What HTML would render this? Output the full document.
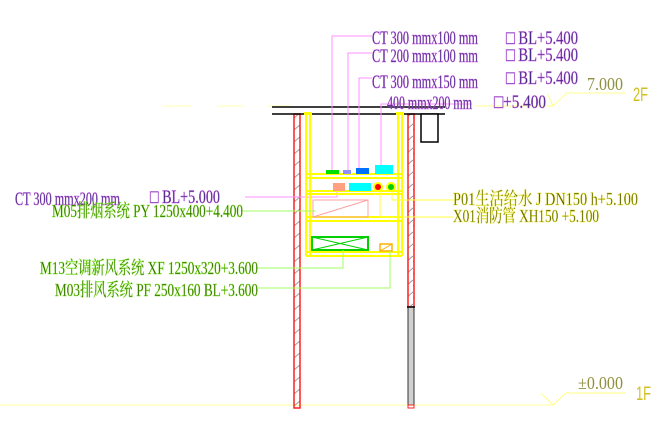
<!DOCTYPE html>
<html><head><meta charset="utf-8"><style>html,body{margin:0;padding:0;background:#fff;width:668px;height:434px;overflow:hidden}</style></head><body>
<svg width="668" height="434" viewBox="0 0 668 434" xmlns="http://www.w3.org/2000/svg" font-family="Liberation Serif, Noto Serif CJK SC, serif">
<defs><pattern id="h" width="7" height="12" patternUnits="userSpaceOnUse"><line x1="0" y1="10" x2="7" y2="4" stroke="#999" stroke-width="1"/></pattern></defs>
<g stroke="#ffffb0" stroke-width="1"><line x1="163" y1="106" x2="191" y2="106"/><line x1="217" y1="106" x2="243" y2="106"/><line x1="268" y1="106" x2="290" y2="106"/></g>
<line x1="0" y1="405" x2="553" y2="405" stroke="#ffffa0" stroke-width="1"/>
<polyline points="541,393 553,405 566,393 625,393" fill="none" stroke="#ffff80" stroke-width="1"/>
<polyline points="475,106 553,106 567,93 625,93" fill="none" stroke="#ffff90" stroke-width="1"/>
<line x1="547" y1="93" x2="553" y2="106" stroke="#ffff90"/>
<rect x="294" y="114" width="6" height="294" fill="url(#h)" stroke="#ff2020" stroke-width="1.5"/>
<rect x="408" y="114" width="6" height="193" fill="url(#h)" stroke="#ff2020" stroke-width="1.5"/>
<rect x="408" y="307" width="6" height="99" fill="#d0d0d0" stroke="#333" stroke-width="1"/>
<rect x="408" y="405" width="6" height="3" fill="#fff" stroke="#ff2020"/>
<line x1="407" y1="307" x2="415" y2="307" stroke="#000" stroke-width="1.5"/>
<line x1="272" y1="107" x2="445" y2="107" stroke="#000" stroke-width="1.5"/>
<line x1="272" y1="114" x2="445" y2="114" stroke="#000" stroke-width="1.5"/>
<rect x="421" y="114" width="17" height="28" fill="#fff" stroke="#000" stroke-width="1.5"/>
<g stroke="#ff90ff" stroke-width="1" fill="none">
<polyline points="332,170 332,36 372,36"/>
<polyline points="348,170 348,53 372,53"/>
<polyline points="359,168 359,78 372,78"/>
<polyline points="381,165 381,104 387,104"/>
<polyline points="245,197 337,197 337,191"/>
</g>
<line x1="387" y1="104" x2="472" y2="104" stroke="#ff90ff"/>
<g stroke="#ffff00" stroke-width="2" fill="none">
<line x1="306" y1="113" x2="306" y2="256"/><line x1="310" y1="113" x2="310" y2="256"/>
<line x1="398" y1="113" x2="398" y2="256"/><line x1="402" y1="113" x2="402" y2="256"/>
<line x1="306" y1="174" x2="402" y2="174"/><line x1="306" y1="178" x2="402" y2="178"/>
<line x1="306" y1="191" x2="402" y2="191"/><line x1="306" y1="194" x2="402" y2="194"/>
<line x1="306" y1="217" x2="402" y2="217"/><line x1="306" y1="221" x2="402" y2="221"/>
<line x1="306" y1="252" x2="402" y2="252"/><line x1="306" y1="256" x2="402" y2="256"/>
</g>
<rect x="304" y="112" width="8" height="3" fill="#ffff00"/><rect x="396" y="112" width="8" height="3" fill="#ffff00"/>
<rect x="326" y="170" width="13" height="4" fill="#00e000"/>
<rect x="343" y="170" width="8" height="4" fill="#9090ff"/>
<rect x="356" y="168" width="13" height="6" fill="#0070ff"/>
<rect x="375" y="165" width="18" height="9" fill="#00ffff"/>
<rect x="333" y="183" width="12" height="8" fill="#ffa080"/>
<rect x="349" y="183" width="22" height="8" fill="#00ffff"/>
<circle cx="378" cy="187" r="5" fill="#ffff00"/><circle cx="378" cy="187" r="3" fill="#ff0000"/>
<circle cx="391" cy="187" r="5" fill="#ffff00"/><circle cx="391" cy="187" r="3" fill="#00d000"/>
<rect x="313" y="200" width="55" height="17" fill="none" stroke="#ffa0a0"/>
<line x1="313" y1="217" x2="368" y2="200" stroke="#ffa0a0"/>
<rect x="312" y="237" width="56" height="13" fill="none" stroke="#00d000" stroke-width="2"/>
<line x1="312" y1="237" x2="368" y2="250" stroke="#00d000"/><line x1="312" y1="250" x2="368" y2="237" stroke="#00d000"/>
<rect x="380" y="244" width="12" height="7" fill="none" stroke="#ffb000" stroke-width="1.5"/>
<line x1="380" y1="251" x2="392" y2="244" stroke="#ffb000"/>
<g stroke="#a0ff60" stroke-width="1" fill="none">
<polyline points="243,211 315,211"/>
<polyline points="258,268 343,268 343,250"/>
<polyline points="258,288 390,288 390,251"/>
</g>
<g stroke="#ffff40" stroke-width="1" fill="none">
<polyline points="392,192 392,200 453,200"/>
<polyline points="380,192 380,217 453,217"/>
</g>
<g fill="#402880" stroke="#c060e0" stroke-width="0.5" font-size="19">
<text x="372" y="44" textLength="106" lengthAdjust="spacingAndGlyphs">CT 300 mmx100 mm</text>
<text x="372" y="62" textLength="106" lengthAdjust="spacingAndGlyphs">CT 200 mmx100 mm</text>
<text x="372" y="88" textLength="106" lengthAdjust="spacingAndGlyphs">CT 300 mmx150 mm</text>
<text x="387" y="109" textLength="85" lengthAdjust="spacingAndGlyphs">400 mmx200 mm</text>
<text x="506" y="44" textLength="72" lengthAdjust="spacingAndGlyphs">□ BL+5.400</text>
<text x="506" y="61" textLength="72" lengthAdjust="spacingAndGlyphs">□ BL+5.400</text>
<text x="506" y="84" textLength="72" lengthAdjust="spacingAndGlyphs">□ BL+5.400</text>
<text x="494" y="108" textLength="52" lengthAdjust="spacingAndGlyphs">□+5.400</text>
<text x="15" y="205" textLength="105" lengthAdjust="spacingAndGlyphs">CT 300 mmx200 mm</text>
<text x="150" y="203" textLength="70" lengthAdjust="spacingAndGlyphs">□ BL+5.000</text>
</g>
<g fill="#306000" stroke="#80e030" stroke-width="0.5" font-size="18">
<text x="52" y="217" textLength="191" lengthAdjust="spacingAndGlyphs">M05排烟系统 PY 1250x400+4.400</text>
<text x="40" y="274" textLength="218" lengthAdjust="spacingAndGlyphs">M13空调新风系统 XF 1250x320+3.600</text>
<text x="55" y="296" textLength="203" lengthAdjust="spacingAndGlyphs">M03排风系统 PF 250x160 BL+3.600</text>
</g>
<g fill="#505000" stroke="#e0e030" stroke-width="0.5" font-size="18">
<text x="453" y="205" textLength="185" lengthAdjust="spacingAndGlyphs">P01生活给水 J DN150  h+5.100</text>
<text x="453" y="222" textLength="146" lengthAdjust="spacingAndGlyphs">X01消防管 XH150 +5.100</text>
</g>
<g fill="#909040" font-size="18">
<text x="587" y="90" textLength="36" lengthAdjust="spacingAndGlyphs">7.000</text>
<text x="578" y="389" textLength="45" lengthAdjust="spacingAndGlyphs">±0.000</text>
</g>
<g fill="#d0c020" font-family="Liberation Sans, sans-serif" font-size="19">
<text x="633" y="101" textLength="15" lengthAdjust="spacingAndGlyphs">2F</text>
<text x="636" y="400" textLength="15" lengthAdjust="spacingAndGlyphs">1F</text>
</g>
</svg>
</body></html>
